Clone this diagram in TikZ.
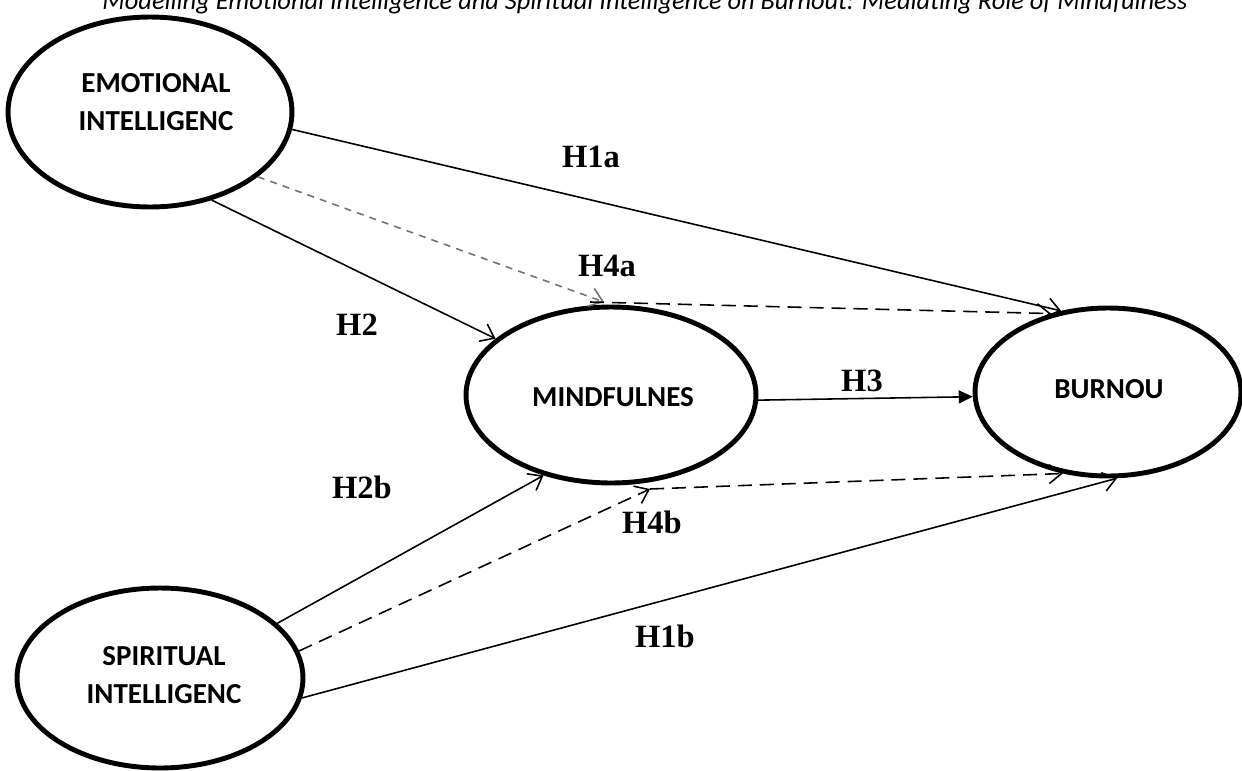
\documentclass[tikz,border=0pt]{standalone}
\usepackage{fontspec}
\setmainfont{Liberation Serif}
\newfontfamily\calibrifont{Carlito}
\usetikzlibrary{arrows.meta,shapes.geometric}
\tikzset{
  constructbox/.style={ellipse,draw=black,line width=2.8pt,inner sep=0pt},
  constructlabel/.style={font=\calibrifont\bfseries\fontsize{16.5}{22}\selectfont,align=center},
  hyplabel/.style={font=\bfseries\fontsize{18.5}{20}\selectfont},
  patharrow/.style={-{Straight Barb[length=2.5mm,width=3.8mm]},line width=0.9pt},
  indirectarrow/.style={patharrow,dash pattern=on 8pt off 4.5pt},
  fadedarrow/.style={patharrow,draw=black!55,dash pattern=on 4pt off 3.5pt},
  mainarrow/.style={-{Triangle[length=2.8mm,width=2.6mm]},line width=0.9pt}
}

\begin{document}
\begin{tikzpicture}[x=0.02cm,y=-0.02cm]
  \useasboundingbox (0,0) rectangle (1242,771);
  \clip (0,0) rectangle (1242,771);
  \node[font=\calibrifont\itshape\fontsize{15}{17}\selectfont,anchor=base] (title) at (645,9)
    {Modelling Emotional Intelligence and Spiritual Intelligence on Burnout: Mediating Role of Mindfulness};

  \node[constructbox,minimum width=5.68cm,minimum height=3.8cm] (ei) at (150,112) {};
  \node[constructbox,minimum width=5.72cm,minimum height=3.6cm] (si) at (160,678) {};
  \node[constructbox,minimum width=5.8cm,minimum height=3.52cm] (mind) at (611,395) {};
  \node[constructbox,minimum width=5.32cm,minimum height=3.36cm] (burn) at (1108,392) {};

  \node[constructlabel] (eitext) at (156,102) {EMOTIONAL\\INTELLIGENC};
  \node[constructlabel] (sitext) at (164,675) {SPIRITUAL\\INTELLIGENC};
  \node[constructlabel] (mindtext) at (613,397) {MINDFULNES};
  \node[constructlabel] (burntext) at (1109,389) {BURNOU};

  \coordinate (h4a) at (604,302);
  \coordinate (h4b) at (650,489);

  \draw[patharrow] (ei.-7) -- (burn.120);
  \draw[fadedarrow] (ei.-31) -- (h4a);
  \draw[indirectarrow] ([xshift=-0.28cm]h4a) -- (burn.126);
  \draw[patharrow] (ei.-55) -- (mind.154);
  \draw[mainarrow] (mind.-2) -- (burn.182);
  \draw[patharrow] (si.25) -- (mind.-130);
  \draw[indirectarrow] (si.11) -- (h4b);
  \draw[indirectarrow] (h4b) -- (burn.-119);
  \draw[patharrow] (si.-8) -- (burn.-84);

  \node[hyplabel] (h1alabel) at (591,157) {H1a};
  \node[hyplabel] (h4alabel) at (607,266) {H4a};
  \node[hyplabel] (h2label) at (357,325) {H2};
  \node[hyplabel] (h3label) at (862,381) {H3};
  \node[hyplabel] (h2blabel) at (362,487) {H2b};
  \node[hyplabel] (h4blabel) at (652,522) {H4b};
  \node[hyplabel] (h1blabel) at (665,636) {H1b};
\end{tikzpicture}
\end{document}
